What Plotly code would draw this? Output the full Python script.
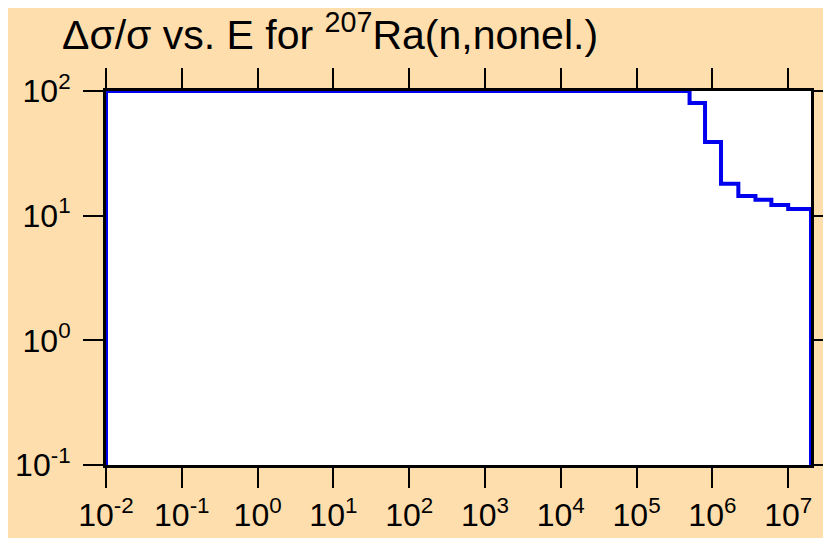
import numpy as np
import plotly.graph_objects as go

# --- data (step histogram of relative uncertainty, %) ---
energy_edges = [1e-2, 1e-2, 5e5, 8e5, 1.3e6, 2.2e6, 3.7e6, 6e6, 1e7, 2e7, 2e7]
rel_unc = [0.1, 100, 80, 39, 18, 14.4, 13.4, 12.2, 11.3, 11.3, 0.1]

x_exponents = list(range(-2, 8))
y_exponents = list(range(-1, 3))

x_tickvals = [10.0 ** e for e in x_exponents]
x_ticktext = [f"10<sup>{e}</sup>" for e in x_exponents]
y_tickvals = [10.0 ** e for e in y_exponents]
y_ticktext = [f"10<sup>{e}</sup>" for e in y_exponents]

FONT = "Liberation Sans, Arial, sans-serif"
BG = "#FFDEAD"
# page body adds an 8px offset, so the figure is sized to what is left
OFF = 8

fig = go.Figure()
fig.add_trace(
    go.Scatter(
        x=energy_edges,
        y=rel_unc,
        mode="lines",
        line=dict(color="#0000EE", width=4, shape="hv"),
        showlegend=False,
        hoverinfo="skip",
    )
)

axis_common = dict(
    type="log",
    showgrid=False,
    zeroline=False,
    showline=True,
    linecolor="black",
    linewidth=3,
    mirror="allticks",
    ticks="outside",
    ticklen=20,
    tickwidth=2,
    tickcolor="black",
    tickfont=dict(family=FONT, size=32, color="black"),
    layer="below traces",
    automargin=False,
)

fig.update_xaxes(
    **axis_common,
    range=[np.log10(1e-2), np.log10(2e7)],
    tickmode="array",
    tickvals=x_tickvals,
    ticktext=x_ticktext,
)
fig.update_yaxes(
    **axis_common,
    range=[-1, 2],
    tickmode="array",
    tickvals=y_tickvals,
    ticktext=y_ticktext,
    ticklabelstandoff=6,
)

fig.update_layout(
    width=831 - OFF,
    height=538 - OFF,
    paper_bgcolor=BG,
    plot_bgcolor="white",
    margin=dict(l=106 - OFF, r=20, t=91 - OFF, b=73),
    title=dict(
        text="Δσ/σ vs. E for <sup>207</sup>Ra(n,nonel.)",
        x=0,
        xref="container",
        xanchor="left",
        pad=dict(l=62 - OFF),
        yref="container",
        y=1 - (35 - OFF) / (538 - OFF),
        yanchor="middle",
        font=dict(family=FONT, size=41, color="black"),
    ),
)

fig.write_html("out.html")
